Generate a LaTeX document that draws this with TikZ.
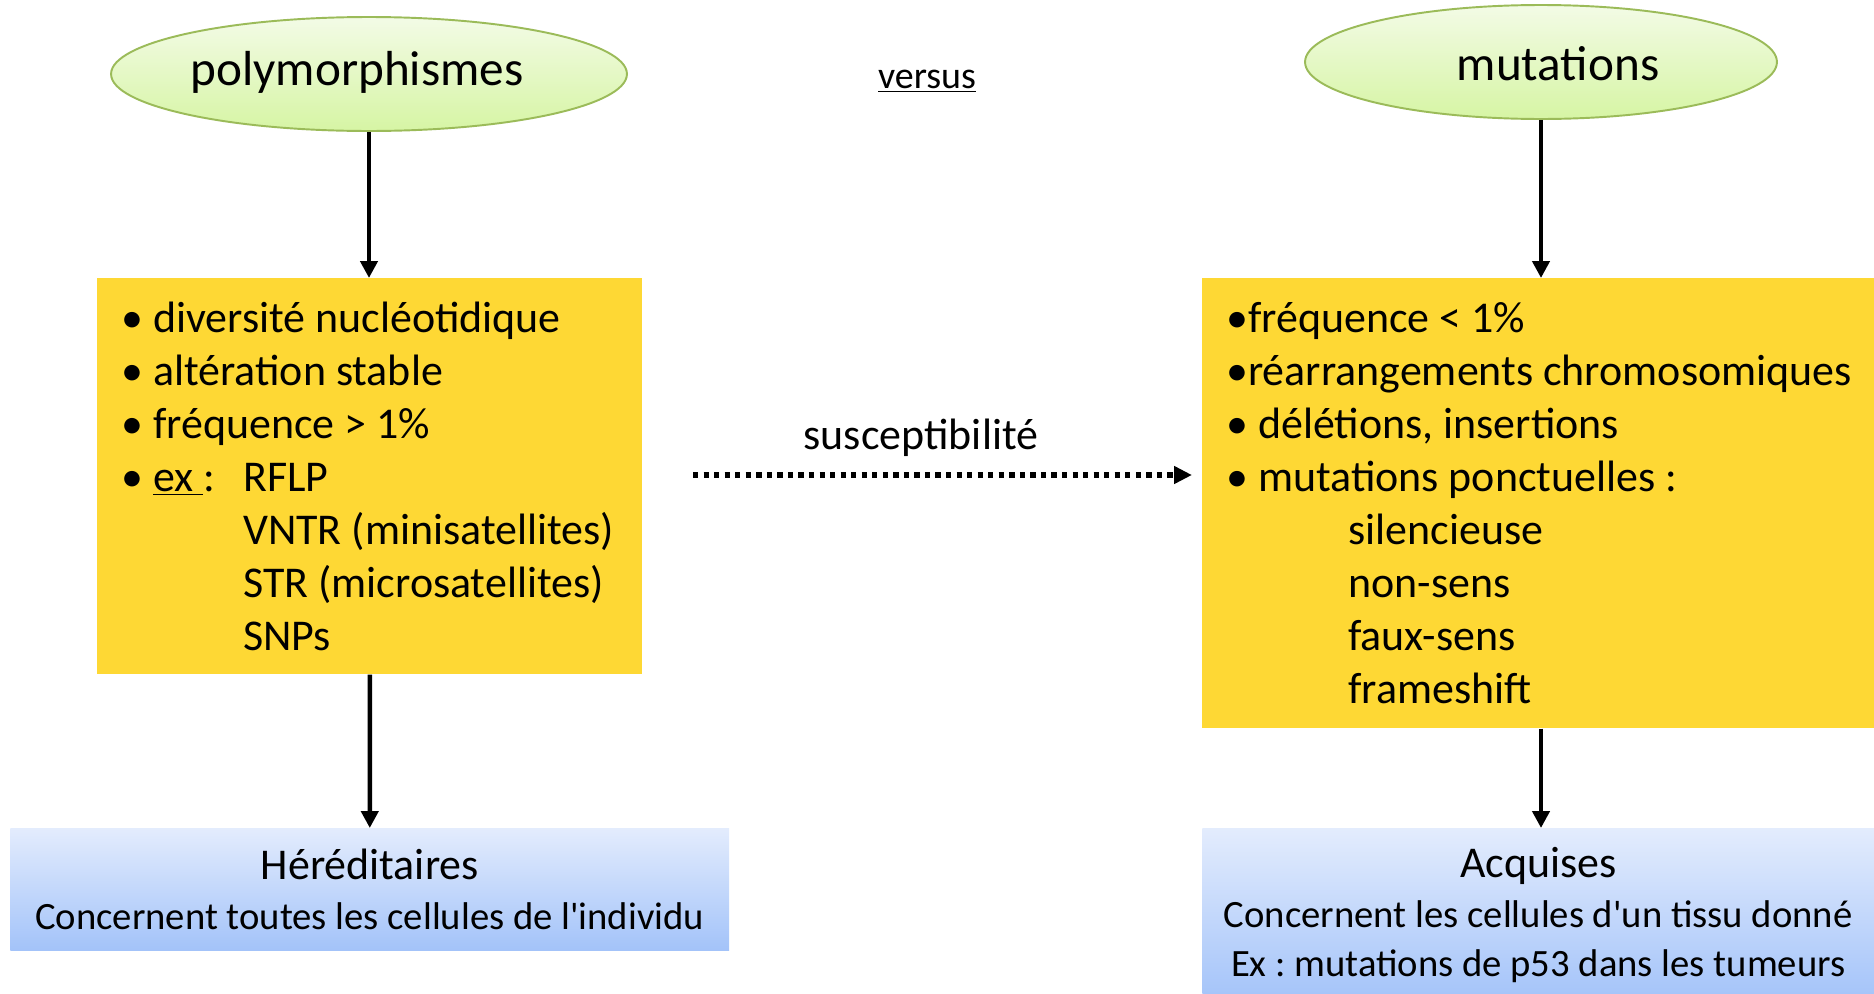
\documentclass[tikz,border=0pt]{standalone}
\usepackage{fontspec}
\setmainfont{Carlito}
\frenchspacing
\usetikzlibrary{shapes.geometric,arrows.meta}
\definecolor{boxyellow}{RGB}{254,216,52}
\definecolor{ellborder}{RGB}{155,187,89}
\definecolor{elltop}{RGB}{243,251,230}
\definecolor{ellbot}{RGB}{214,245,164}
\definecolor{bluetop}{RGB}{227,236,253}
\definecolor{bluebot}{RGB}{163,195,249}
\begin{document}
\begin{tikzpicture}[x=0.02cm,y=-0.02cm,
  ell/.style={ellipse,draw=ellborder,line width=1.1pt,top color=elltop,bottom color=ellbot,inner sep=0pt},
  elltext/.style={inner sep=0pt,font=\fontsize{28}{34}\selectfont},
  ybox/.style={rectangle,fill=boxyellow,inner sep=0pt,anchor=north west},
  ytext/.style={anchor=west,align=left,inner sep=0pt,font=\fontsize{25}{30.2}\selectfont},
  bbox/.style={rectangle,top color=bluetop,bottom color=bluebot,inner sep=0pt,anchor=north west,align=center,font=\fontsize{22}{28.2}\selectfont},
  arr/.style={line width=2.6pt,-{Triangle[length=0.34cm,width=0.34cm]}},
  dotarr/.style={line width=3pt,dash pattern=on 3pt off 3pt,-{Triangle[length=0.36cm,width=0.34cm]}}
]
%frame
\useasboundingbox (0,0) rectangle (1874,994);
%ellipses
\node[ell,minimum width=10.32cm,minimum height=2.28cm] (polyell) at (369,74) {};
\node[elltext] (polylabel) at ([xshift=-0.24cm,yshift=0.04cm]polyell.center) {polymorphismes};
\node[ell,minimum width=9.44cm,minimum height=2.28cm] (mutell) at (1541,62) {};
\node[elltext] (mutlabel) at ([xshift=0.34cm,yshift=-0.04cm]mutell.center) {mutations};
\node[font=\fontsize{21.6}{26}\selectfont] (versus) at (927,81) {\underline{versus}};
%yellow boxes
\node[ybox,minimum width=10.9cm,minimum height=7.92cm] (polybox) at (97,278) {};
\node[ytext] (polytext) at ([xshift=0.48cm]polybox.west) {%
• diversité nucléotidique\\
• altération stable\\
• fréquence > 1\%\\
\makebox[2.44cm][l]{• \underline{ex\ }:}RFLP\\
\hspace*{2.44cm}VNTR (minisatellites)\\
\hspace*{2.44cm}STR (microsatellites)\\
\hspace*{2.44cm}SNPs};
\node[ybox,minimum width=13.44cm,minimum height=9cm] (mutbox) at (1202,278) {};
\node[ytext] (muttext) at ([xshift=0.48cm]mutbox.west) {%
•fréquence < 1\%\\
•réarrangements chromosomiques\\
• délétions, insertions\\
• mutations ponctuelles :\\
\hspace*{2.44cm}silencieuse\\
\hspace*{2.44cm}non-sens\\
\hspace*{2.44cm}faux-sens\\
\hspace*{2.44cm}frameshift};
%blue boxes
\node[bbox,minimum width=14.38cm,minimum height=2.44cm] (hered) at (10,828) {{\fontsize{25}{28.2}\selectfont Héréditaires}\\Concernent toutes les cellules de l\textquotesingle individu};
\node[bbox,minimum width=13.44cm,minimum height=3.48cm] (acq) at (1202,828) {{\fontsize{25}{28.2}\selectfont Acquises}\\Concernent les cellules d\textquotesingle un tissu donné\\Ex : mutations de p53 dans les tumeurs};
%arrows
\draw[arr] (polyell.south) -- (polyell.south |- polybox.north);
\draw[arr] (mutell.south) -- (mutell.south |- mutbox.north);
\draw[arr] (polybox.south) -- (hered.north);
\draw[arr] (mutell.south |- mutbox.south) -- (mutell.south |- acq.north);
%susceptibility
\coordinate (suscA) at (693,475);
\coordinate (suscB) at (1192,475);
\draw[dotarr] (suscA) -- (suscB);
\node[font=\fontsize{25}{30}\selectfont] (susc) at (921,438) {susceptibilité};
\end{tikzpicture}
\end{document}
